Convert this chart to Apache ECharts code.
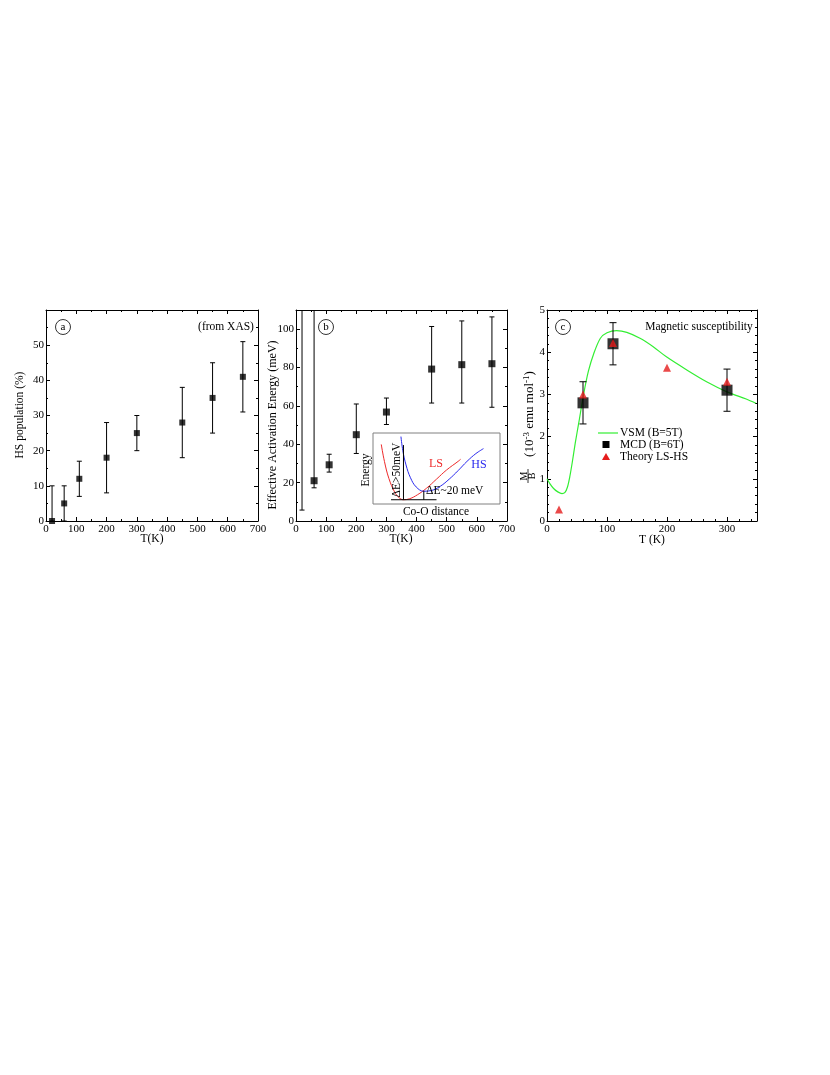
<!DOCTYPE html>
<html>
<head>
<meta charset="utf-8">
<script src="https://cdn.jsdelivr.net/npm/echarts@6/dist/echarts.min.js"></script>
<style>
html,body{margin:0;padding:0;background:#fff;}
#chart{width:830px;height:1075px;}
</style>
</head>
<body>
<div id="chart"></div>
<script>
// ---------- Panel a: HS population (from XAS) ----------
const aT   = [20, 60, 110, 200, 300, 450, 550, 650];
const aVal = [0, 5, 12, 18, 25, 28, 35, 41];
const aLo  = [0, 0, 7, 8, 20, 18, 25, 31];
const aHi  = [10, 10, 17, 28, 30, 38, 45, 51];

// ---------- Panel b: effective activation energy ----------
const bT   = [20, 60, 110, 200, 300, 450, 550, 650];
const bVal = [null, 21, 29.3, 45, 56.8, 79.2, 81.5, 82];
const bLo  = [5.7, 17.3, 25.5, 35.2, 50.3, 61.5, 61.5, 59.3];
const bHi  = [140, 140, 34.8, 61, 64.1, 101.4, 104.3, 106.4];

// inset (schematic energy curves, relative units)
const lsCurve = [[0.065,0.84],[0.09,0.6],[0.125,0.36],[0.17,0.17],[0.205,0.09],[0.24,0.06],[0.29,0.075],[0.35,0.13],[0.42,0.22],[0.5,0.35],[0.58,0.48],[0.67,0.6],[0.69,0.63]];
const hsCurve = [[0.22,0.95],[0.235,0.75],[0.26,0.55],[0.295,0.37],[0.34,0.24],[0.4,0.18],[0.46,0.19],[0.53,0.25],[0.6,0.35],[0.67,0.47],[0.74,0.6],[0.81,0.71],[0.87,0.78]];
const baseLine = [[0.142,0.06],[0.50,0.06]];
const gapLine1 = [[0.24,0.06],[0.24,0.83]];
const gapLine2 = [[0.40,0.06],[0.40,0.185]];

// ---------- Panel c: magnetic susceptibility ----------
const vsmT = [0, 5, 11, 18, 25, 30, 34, 38, 42, 47, 53, 61, 69, 78, 89, 100, 116, 133, 155, 177, 199, 233, 266, 300, 332, 348];
const vsmM = [1.0, 0.88, 0.77, 0.69, 0.65, 0.68, 0.8, 1.05, 1.38, 1.84, 2.33, 3.0, 3.55, 3.97, 4.33, 4.46, 4.51, 4.47, 4.33, 4.13, 3.89, 3.58, 3.30, 3.06, 2.89, 2.79];
const mcdT  = [60, 110, 300];
const mcdM  = [2.8, 4.2, 3.1];
const mcdLo = [2.3, 3.7, 2.6];
const mcdHi = [3.3, 4.7, 3.6];
const thT = [20, 60, 110, 200, 300];
const thM = [0.27, 3.0, 4.22, 3.63, 3.3];
const legendNames = ['VSM (B=5T)', 'MCD (B=6T)', 'Theory LS-HS'];

const FONT = '"Liberation Serif", "DejaVu Serif", serif';
const tickFS = 11;
const GREEN = '#33ee33', RED = '#e51c1c';

const grids = [
  {left: 46, top: 310, width: 212, height: 211},
  {left: 296, top: 310, width: 211, height: 211},
  {left: 547, top: 310, width: 210, height: 211},
  {left: 373, top: 433, width: 127, height: 71, show: true, borderColor: '#808080', borderWidth: 1, backgroundColor: '#fff', z: 5}
];

function xAx(gi, max, interval, minorSplit, hideAbove, top) {
  return {
    type: 'value', gridIndex: gi, min: 0, max: max, interval: interval,
    position: top ? 'top' : 'bottom',
    axisLine: {show: true, onZero: false, lineStyle: {color: '#000', width: 1}},
    axisTick: {show: true, inside: true, length: 4, lineStyle: {color: '#000'}},
    minorTick: {show: true, splitNumber: minorSplit, length: 2, lineStyle: {color: '#000'}},
    splitLine: {show: false},
    axisLabel: {show: !top, margin: 3, color: '#000', fontFamily: FONT, fontSize: tickFS,
      formatter: v => (v > hideAbove ? '' : v)}
  };
}
function yAx(gi, max, interval, minorSplit, hideAbove, right) {
  return {
    type: 'value', gridIndex: gi, min: 0, max: max, interval: interval,
    position: right ? 'right' : 'left',
    axisLine: {show: true, onZero: false, lineStyle: {color: '#000', width: 1}},
    axisTick: {show: true, inside: true, length: 4, lineStyle: {color: '#000'}},
    minorTick: {show: true, splitNumber: minorSplit, length: 2, lineStyle: {color: '#000'}},
    splitLine: {show: false},
    axisLabel: {show: !right, margin: 2, color: '#000', fontFamily: FONT, fontSize: tickFS,
      formatter: v => (v > hideAbove ? '' : v)}
  };
}

const xAxes = [
  xAx(0, 700, 100, 2, 700, false), xAx(0, 700, 100, 2, 700, true),
  xAx(1, 700, 100, 2, 700, false), xAx(1, 700, 100, 2, 700, true),
  xAx(2, 350, 100, 5, 300, false), xAx(2, 350, 100, 5, 300, true),
  {type: 'value', gridIndex: 3, min: 0, max: 1, show: false}
];
const yAxes = [
  yAx(0, 60, 10, 2, 50, false), yAx(0, 60, 10, 2, 50, true),
  yAx(1, 110, 20, 2, 100, false), yAx(1, 110, 20, 2, 100, true),
  yAx(2, 5, 1, 5, 5, false), yAx(2, 5, 1, 5, 5, true),
  {type: 'value', gridIndex: 3, min: 0, max: 1, show: false}
];

function errSeries(xi, yi, T, lo, hi, cap, z) {
  return {
    type: 'custom', xAxisIndex: xi, yAxisIndex: yi, clip: true, z: z || 3,
    data: T.map((t, i) => [t, lo[i], hi[i]]),
    renderItem: function (params, api) {
      const p1 = api.coord([api.value(0), api.value(1)]);
      const p2 = api.coord([api.value(0), api.value(2)]);
      const st = {stroke: '#000', lineWidth: 1};
      return {type: 'group', children: [
        {type: 'line', shape: {x1: p1[0], y1: p1[1], x2: p2[0], y2: p2[1]}, style: st},
        {type: 'line', shape: {x1: p1[0] - cap, y1: p1[1], x2: p1[0] + cap, y2: p1[1]}, style: st},
        {type: 'line', shape: {x1: p2[0] - cap, y1: p2[1], x2: p2[0] + cap, y2: p2[1]}, style: st}
      ]};
    }
  };
}
function pts(T, V) { return T.map((t, i) => [t, V[i]]); }

const series = [
  errSeries(0, 0, aT, aLo, aHi, 2.5),
  {type: 'scatter', xAxisIndex: 0, yAxisIndex: 0, clip: false, symbol: 'rect', symbolSize: 6,
   itemStyle: {color: '#000'}, data: pts(aT, aVal), z: 4},
  errSeries(2, 2, bT, bLo, bHi, 2.5),
  {type: 'scatter', xAxisIndex: 2, yAxisIndex: 2, clip: false, symbol: 'rect', symbolSize: 7,
   itemStyle: {color: '#000'}, data: pts(bT, bVal).filter(d => d[1] !== null), z: 4},
  // inset
  {type: 'line', xAxisIndex: 6, yAxisIndex: 6, data: lsCurve, smooth: 0.4, showSymbol: false,
   lineStyle: {color: '#ee2a2a', width: 1}, z: 6},
  {type: 'line', xAxisIndex: 6, yAxisIndex: 6, data: hsCurve, smooth: 0.4, showSymbol: false,
   lineStyle: {color: '#2a2aee', width: 1}, z: 6},
  {type: 'line', xAxisIndex: 6, yAxisIndex: 6, data: baseLine, showSymbol: false,
   lineStyle: {color: '#000', width: 1}, z: 6},
  {type: 'line', xAxisIndex: 6, yAxisIndex: 6, data: gapLine1, showSymbol: false,
   lineStyle: {color: '#000', width: 1}, z: 6},
  {type: 'line', xAxisIndex: 6, yAxisIndex: 6, data: gapLine2, showSymbol: false,
   lineStyle: {color: '#000', width: 1}, z: 6},
  // panel c
  {name: legendNames[0], type: 'line', xAxisIndex: 4, yAxisIndex: 4, data: pts(vsmT, vsmM),
   smooth: 0.3, showSymbol: false, lineStyle: {color: GREEN, width: 1.2}, z: 2},
  errSeries(4, 4, mcdT, mcdLo, mcdHi, 3.5),
  {name: legendNames[1], type: 'scatter', xAxisIndex: 4, yAxisIndex: 4, symbol: 'rect', symbolSize: 11,
   itemStyle: {color: '#000'}, data: pts(mcdT, mcdM), z: 4},
  {name: legendNames[2], type: 'scatter', xAxisIndex: 4, yAxisIndex: 4, symbol: 'triangle', symbolSize: 8,
   itemStyle: {color: RED}, data: pts(thT, thM), z: 5, clip: false}
];

function txt(x, y, s, opts) {
  return Object.assign({type: 'text', x: x, y: y, z: 100,
    style: Object.assign({text: s, font: '12px ' + FONT, fill: '#000', textAlign: 'center', textVerticalAlign: 'middle'},
      (opts && opts.style) || {})}, opts && opts.rot ? {rotation: opts.rot} : {});
}
function circ(x, y, s) {
  return [
    {type: 'circle', shape: {cx: x, cy: y, r: 7.5}, style: {fill: 'none', stroke: '#000', lineWidth: 0.8}, z: 100},
    txt(x, y, s, {style: {font: '11px ' + FONT}})
  ];
}
const R = Math.PI / 2;
const F = '11.5px ' + FONT;
const graphic = [].concat(
  circ(63, 327, 'a'), circ(326, 327, 'b'), circ(563, 327, 'c'),
  [
    txt(226, 327, '(from XAS)', {style: {font: F}}),
    txt(699, 327, 'Magnetic susceptibility', {style: {font: F}}),
    txt(152, 539, 'T(K)', {style: {font: F}}),
    txt(401, 539, 'T(K)', {style: {font: F}}),
    txt(652, 540, 'T (K)', {style: {font: F}}),
    txt(20, 415, 'HS population (%)', {rot: R, style: {font: F}}),
    txt(273, 425, 'Effective Activation Energy (meV)', {rot: R, style: {font: '12px ' + FONT}}),
    // c y-axis label: M over B then units
    txt(524, 476, 'M', {rot: R, style: {font: '10px ' + FONT}}),
    {type: 'line', shape: {x1: 528, y1: 469, x2: 528, y2: 483}, style: {stroke: '#000', lineWidth: 0.8}, z: 100},
    txt(532.5, 476, 'B', {rot: R, style: {font: '10px ' + FONT}}),
    {type: 'text', x: 530, y: 414, rotation: R, z: 100,
     style: {text: '(10{s|-3} emu mol{s|-1})', font: '13px ' + FONT, fill: '#000', textAlign: 'center', textVerticalAlign: 'middle',
       rich: {s: {fontSize: 9, fontFamily: FONT, padding: [0, 0, 6, 0]}}}},
    // inset texts
    txt(366, 470, 'Energy', {rot: R, style: {font: F}}),
    txt(397, 470, 'ΔE>50meV', {rot: R, style: {font: F}}),
    txt(426, 491, 'ΔE~20 meV', {style: {font: F, textAlign: 'left'}}),
    txt(436, 464, 'LS', {style: {font: '12px ' + FONT, fill: '#ee2a2a'}}),
    txt(479, 465, 'HS', {style: {font: '12px ' + FONT, fill: '#2a2aee'}}),
    txt(436, 512, 'Co-O distance', {style: {font: F}}),
    // legend of panel c
    {type: 'line', shape: {x1: 598, y1: 433, x2: 618, y2: 433}, style: {stroke: GREEN, lineWidth: 1.2}, z: 100},
    {type: 'rect', shape: {x: 602.5, y: 441, width: 7, height: 7}, style: {fill: '#000'}, z: 100},
    {type: 'polygon', shape: {points: [[606, 453], [610, 460], [602, 460]]}, style: {fill: RED}, z: 100},
    txt(620, 433, legendNames[0], {style: {font: F, textAlign: 'left'}}),
    txt(620, 444.5, legendNames[1], {style: {font: F, textAlign: 'left'}}),
    txt(620, 456.5, legendNames[2], {style: {font: F, textAlign: 'left'}})
  ]
);

const chart = echarts.init(document.getElementById('chart'), null, {renderer: 'canvas'});
chart.setOption({
  animation: false,
  backgroundColor: '#fff',
  grid: grids,
  xAxis: xAxes,
  yAxis: yAxes,
  series: series,
  graphic: graphic
});
</script>
</body>
</html>
